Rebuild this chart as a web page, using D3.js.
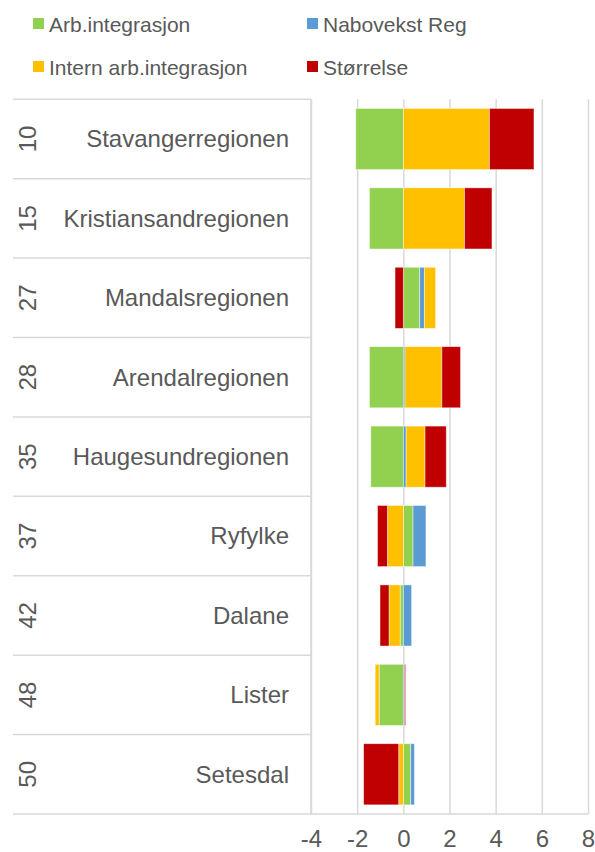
<!DOCTYPE html>
<html>
<head>
<meta charset="utf-8">
<script src="https://cdn.jsdelivr.net/npm/d3@7"></script>
<style>
  body { margin: 0; background: #fff; }
  text { font-family: "Liberation Sans", Arial, sans-serif; fill: #595959; }
</style>
</head>
<body>
<div id="graph"></div>
<script>
// categories + rank in the left column
var regions = ["Stavangerregionen", "Kristiansandregionen", "Mandalsregionen", "Arendalregionen",
               "Haugesundregionen", "Ryfylke", "Dalane", "Lister", "Setesdal"];
var ranks = ["10", "15", "27", "28", "35", "37", "42", "48", "50"];

// series
var arbIntegrasjon    = [-2.06, -1.47, 0.71, -1.47, -1.41, 0.42, -0.14, -1.05, 0.32];
var naboveksReg       = [0, 0, 0.20, 0.07, 0.12, 0.56, 0.36, 0.05, 0.16];
var internIntegrasjon = [3.73, 2.65, 0.49, 1.60, 0.82, -0.69, -0.48, -0.17, -0.20];
var storrelse         = [1.93, 1.19, -0.36, 0.81, 0.92, -0.43, -0.39, 0.05, -1.52];

var seriesNames = ["Arb.integrasjon", "Nabovekst Reg", "Intern arb.integrasjon", "Størrelse"];
var seriesColors = ["#92d050", "#5b9bd5", "#ffc000", "#c00000"];
var xTicks = [-4, -2, 0, 2, 4, 6, 8];

var W = 595, H = 852;
var plot = {left: 311, right: 588, top: 99.3, bottom: 814};
var labelLeft = 13;

var svg = d3.select("#graph").append("svg")
    .attr("width", W).attr("height", H);

// build rows for d3.stack
var keys = ["arb", "nabo", "intern", "storr"];
var rows = regions.map(function(r, i) {
  return {region: r, rank: ranks[i], arb: arbIntegrasjon[i], nabo: naboveksReg[i],
          intern: internIntegrasjon[i], storr: storrelse[i]};
});

var stacked = d3.stack().keys(keys).offset(d3.stackOffsetDiverging)(rows);

var x = d3.scaleLinear().domain([-4, 8]).range([plot.left, plot.right]);
var y = d3.scaleBand().domain(regions).range([plot.top, plot.bottom])
    .paddingInner(0.23).paddingOuter(0.115);
var yStep = y.step();

// gridlines + x labels
var xAxis = svg.append("g")
    .attr("transform", "translate(0," + plot.bottom + ")")
    .call(d3.axisBottom(x).tickValues(xTicks)
            .tickSize(-(plot.bottom - plot.top)).tickPadding(16)
            .tickFormat(function(d){ return d < 0 ? "-" + Math.abs(d) : d; }));
xAxis.select(".domain").remove();
xAxis.selectAll(".tick line").attr("stroke", "#d9d9d9").attr("stroke-width", 1.5);
xAxis.selectAll(".tick text").attr("font-size", 24).attr("fill", "#595959")
    .style("font-family", "'Liberation Sans', Arial, sans-serif");

// bottom axis line
svg.append("line")
    .attr("x1", plot.left).attr("x2", plot.right)
    .attr("y1", plot.bottom).attr("y2", plot.bottom)
    .attr("stroke", "#d9d9d9").attr("stroke-width", 1.5);

// category separators on the left
var seps = d3.range(regions.length + 1);
svg.append("g").selectAll("line").data(seps).enter().append("line")
    .attr("x1", labelLeft).attr("x2", plot.left)
    .attr("y1", function(d){ return plot.top + d * yStep; })
    .attr("y2", function(d){ return plot.top + d * yStep; })
    .attr("stroke", "#d9d9d9").attr("stroke-width", 1.5);

// vertical axis line
svg.append("line")
    .attr("x1", plot.left).attr("x2", plot.left)
    .attr("y1", plot.top).attr("y2", plot.bottom)
    .attr("stroke", "#d9d9d9").attr("stroke-width", 1.5);

// bars
svg.append("g").selectAll("g").data(stacked).enter().append("g")
    .attr("fill", function(d, i){ return seriesColors[i]; })
  .selectAll("rect").data(function(d){ return d; }).enter().append("rect")
    .attr("x", function(d){ return x(Math.min(d[0], d[1])); })
    .attr("width", function(d){ return Math.abs(x(d[1]) - x(d[0])); })
    .attr("y", function(d){ return y(d.data.region); })
    .attr("height", y.bandwidth())
    .attr("stroke", "rgba(255,255,255,0.6)").attr("stroke-width", 0.75);

// category labels
svg.append("g").selectAll("text").data(rows).enter().append("text")
    .attr("x", 289)
    .attr("y", function(d){ return y(d.region) + y.bandwidth() / 2; })
    .attr("dy", "0.35em")
    .attr("text-anchor", "end")
    .attr("font-size", 24)
    .text(function(d){ return d.region; });

// ranks, rotated
svg.append("g").selectAll("text").data(rows).enter().append("text")
    .attr("transform", function(d){
      return "translate(28," + (y(d.region) + y.bandwidth() / 2) + ") rotate(-90)";
    })
    .attr("dy", "0.35em")
    .attr("text-anchor", "middle")
    .attr("font-size", 24)
    .text(function(d){ return d.rank; });

// legend, two columns
var legendPos = [[33, 18], [307, 18], [33, 61], [307, 61]];
var legend = svg.append("g").selectAll("g").data(seriesNames).enter().append("g")
    .attr("transform", function(d, i){ return "translate(" + legendPos[i][0] + "," + legendPos[i][1] + ")"; });
legend.append("rect")
    .attr("width", 11).attr("height", 11)
    .attr("fill", function(d, i){ return seriesColors[i]; });
legend.append("text")
    .attr("x", 16).attr("y", 13.5)
    .attr("font-size", 21)
    .text(function(d){ return d; });
</script>
</body>
</html>
